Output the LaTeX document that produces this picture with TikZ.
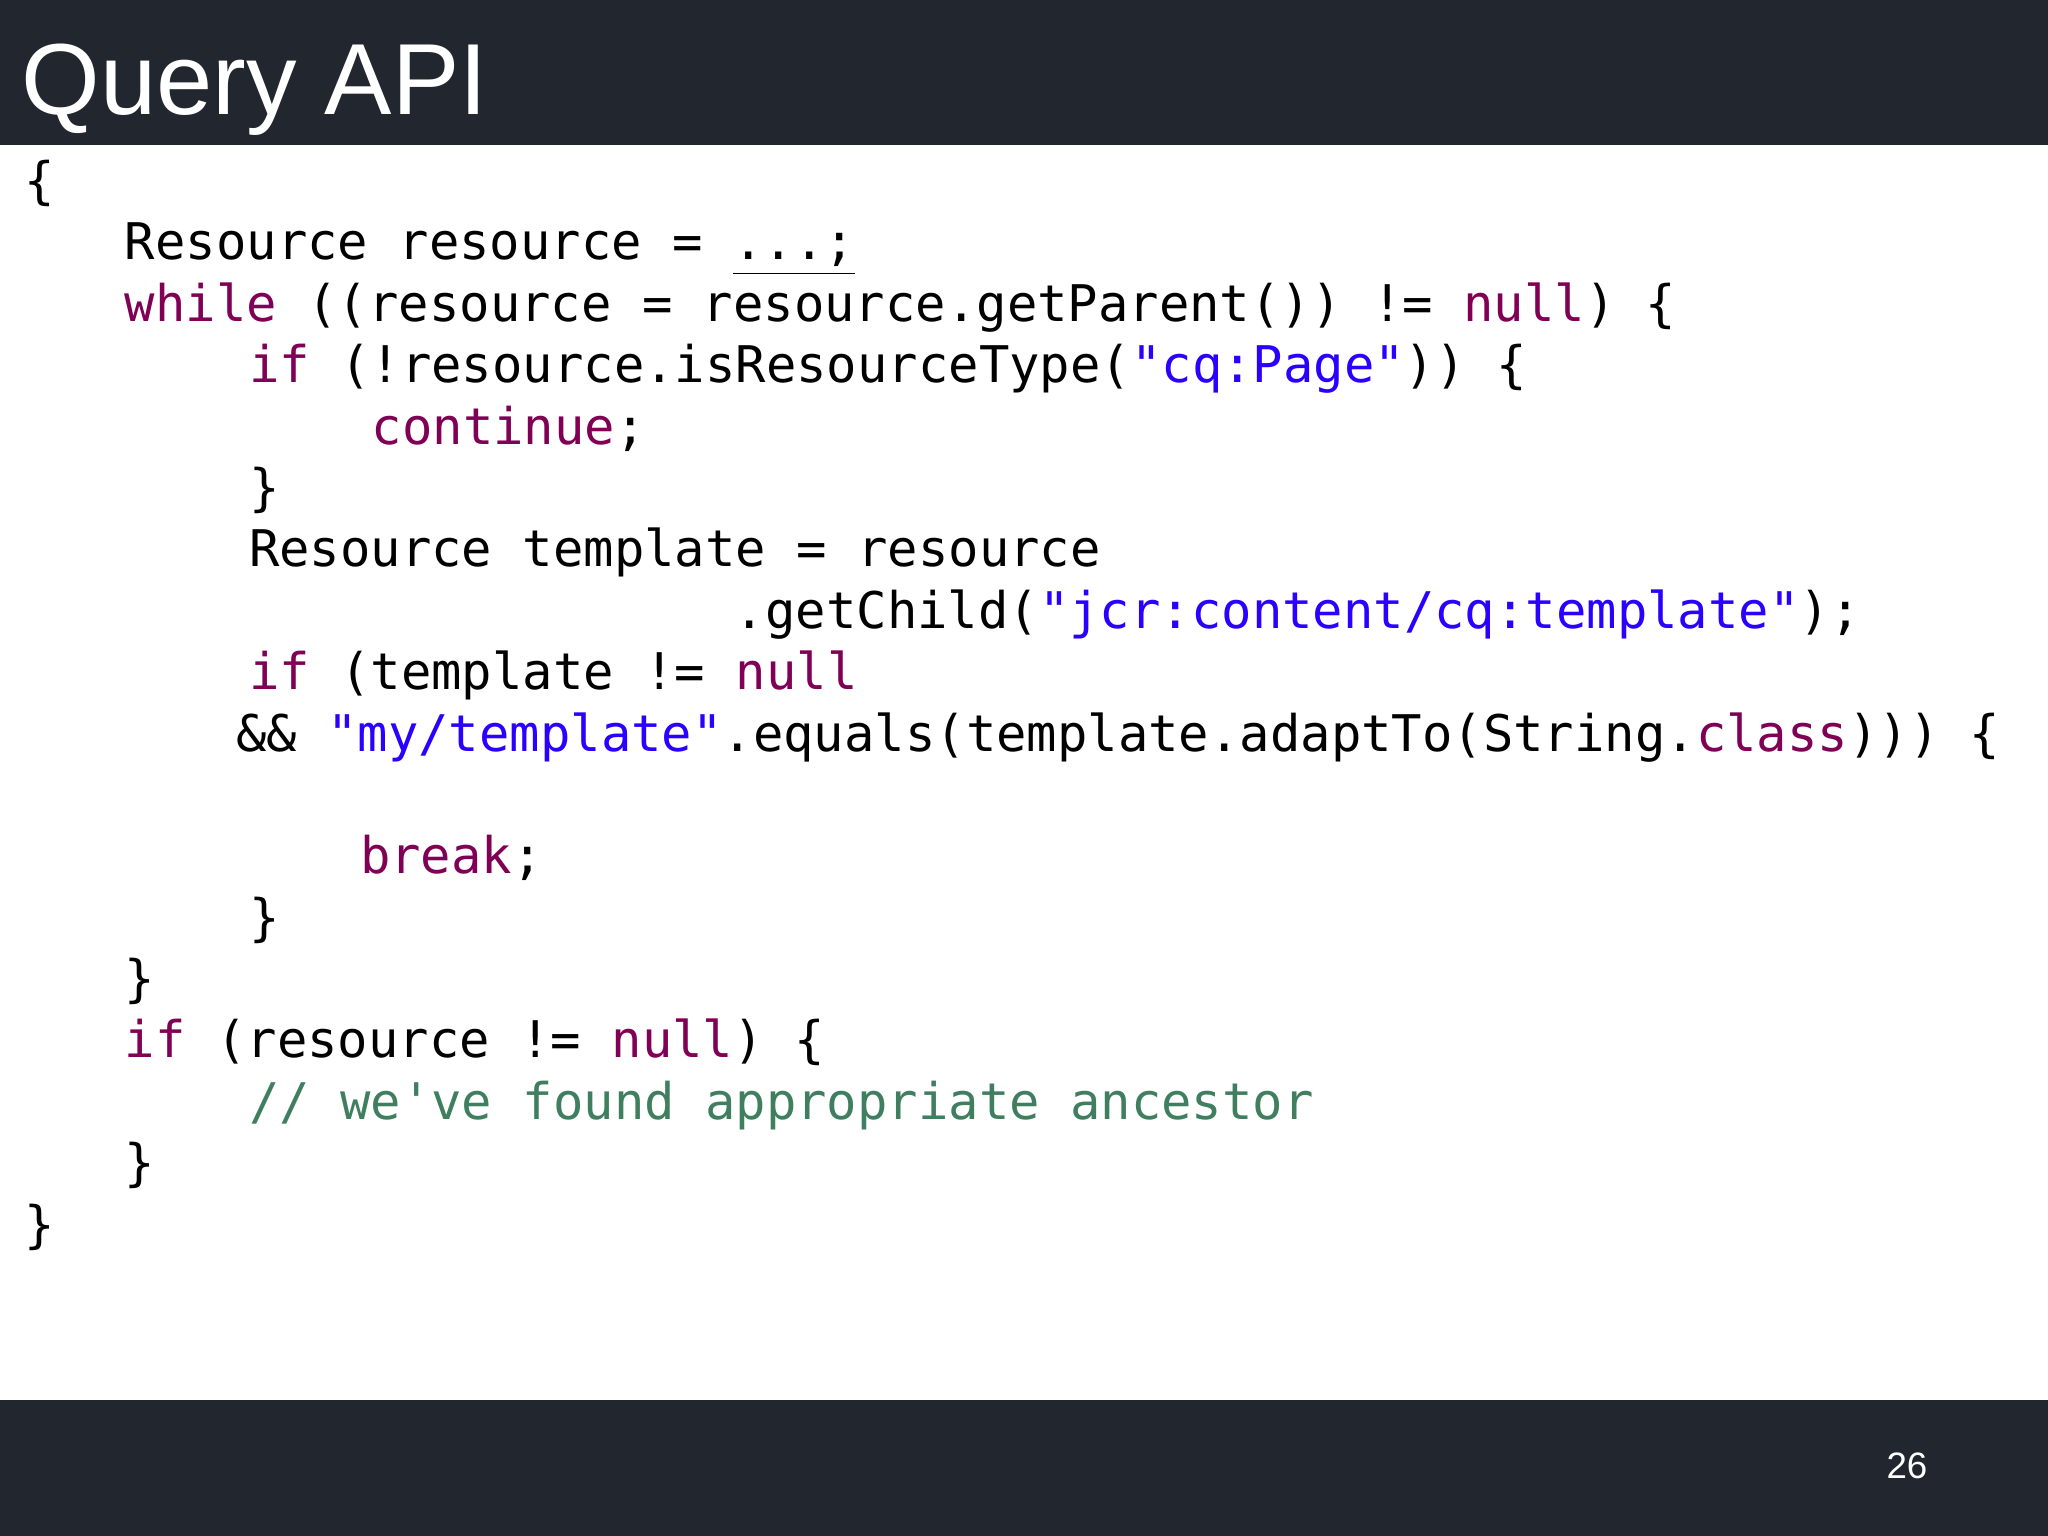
\documentclass[tikz,border=0pt]{standalone}
\usepackage{fontspec}
\setmainfont{Liberation Sans}
\newfontfamily\code{DejaVu Sans Mono}
\definecolor{bar}{HTML}{22262E}
\definecolor{kwc}{HTML}{7F0055}
\definecolor{strc}{HTML}{2A00FF}
\definecolor{cmc}{HTML}{3F7F5F}
\newcommand\jkw[1]{\textcolor{kwc}{#1}}
\newcommand\jstr[1]{\textcolor{strc}{#1}}
\newcommand\jcm[1]{\textcolor{cmc}{#1}}
\tikzset{ln/.style={anchor=base west,inner sep=0pt,font=\code\fontsize{11}{13}\selectfont}}
\begin{document}
\begin{tikzpicture}[x=0.01cm,y=-0.01cm]
\useasboundingbox (0,0) rectangle (1568,1176);
\fill[bar] (0,0) rectangle (1568,111);
\fill[bar] (0,1072) rectangle (1568,1176);
\node[anchor=base west,inner sep=0pt,text=white,font=\fontsize{22}{26}\selectfont] (title) at (16,88) {Query API};
\node[anchor=center,inner sep=0pt,text=white,font=\fontsize{8}{10}\selectfont] (pg) at (1460,1122) {26};
\node[ln] (l1) at (18,152) {\{};
\node[ln] (l2) at (95,199) {Resource resource = \underline{...;}};
\node[ln] (l3) at (95,246) {\jkw{while} ((resource = resource.getParent()) != \jkw{null}) \{};
\node[ln] (l4) at (190,293) {\jkw{if} (!resource.isResourceType(\jstr{"cq:Page"})) \{};
\node[ln] (l5) at (284,340) {\jkw{continue};};
\node[ln] (l6) at (190,387) {\}};
\node[ln] (l7) at (190,434) {Resource template = resource};
\node[ln] (l8) at (562,481) {.getChild(\jstr{"jcr:content/cq:template"});};
\node[ln] (l9) at (190,528) {\jkw{if} (template != \jkw{null}};
\node[ln] (l10) at (180,575) {\&\& \jstr{"my/template"}.equals(template.adaptTo(String.\jkw{class}))) \{};
\node[ln] (l11) at (275,669) {\jkw{break};};
\node[ln] (l12) at (190,716) {\}};
\node[ln] (l13) at (95,763) {\}};
\node[ln] (l14) at (95,810) {\jkw{if} (resource != \jkw{null}) \{};
\node[ln] (l15) at (190,857) {\jcm{// we{\char39}ve found appropriate ancestor}};
\node[ln] (l16) at (95,904) {\}};
\node[ln] (l17) at (18,951) {\}};
\end{tikzpicture}
\end{document}
